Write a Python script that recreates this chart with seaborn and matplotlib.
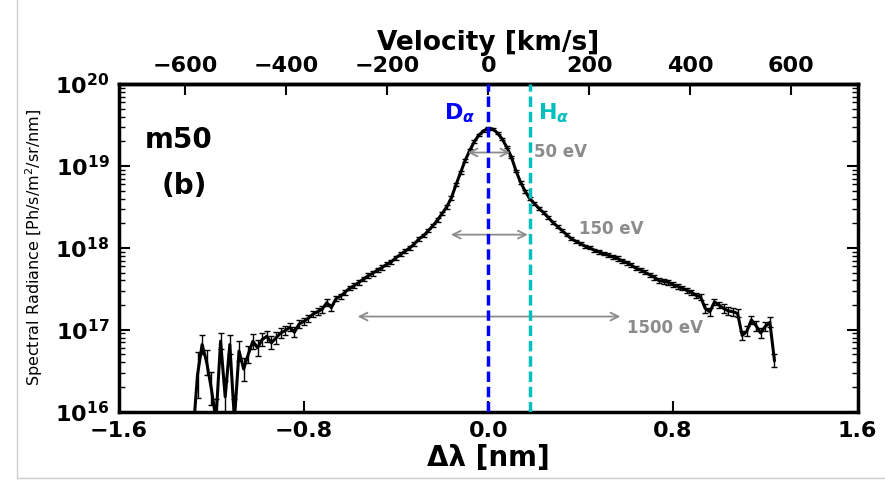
import numpy as np
import pandas as pd
import seaborn as sns
import matplotlib.pyplot as plt
from matplotlib.lines import Line2D
from matplotlib.ticker import LogLocator, NullFormatter

# wavelength shift from D-alpha [nm]
wavelength_shift = [
    -1.28, -1.26, -1.24, -1.22, -1.20, -1.18, -1.16, -1.14, -1.12, -1.10,
    -1.08, -1.06, -1.04, -1.02, -1.00, -0.98, -0.96, -0.94, -0.92, -0.90,
    -0.88, -0.86, -0.84, -0.82, -0.80, -0.78, -0.76, -0.74, -0.72, -0.70,
    -0.68, -0.66, -0.64, -0.62, -0.60, -0.58, -0.56, -0.54, -0.52, -0.50,
    -0.48, -0.46, -0.44, -0.42, -0.40, -0.38, -0.36, -0.34, -0.32, -0.30,
    -0.28, -0.26, -0.24, -0.22, -0.20, -0.18, -0.16, -0.14, -0.12, -0.10,
    -0.08, -0.06, -0.04, -0.02, 0.00, 0.02, 0.04, 0.06, 0.08, 0.10,
    0.12, 0.14, 0.16, 0.18, 0.20, 0.22, 0.24, 0.26, 0.28, 0.30,
    0.32, 0.34, 0.36, 0.38, 0.40, 0.42, 0.44, 0.46, 0.48, 0.50,
    0.52, 0.54, 0.56, 0.58, 0.60, 0.62, 0.64, 0.66, 0.68, 0.70,
    0.72, 0.74, 0.76, 0.78, 0.80, 0.82, 0.84, 0.86, 0.88, 0.90,
    0.92, 0.94, 0.96, 0.98, 1.00, 1.02, 1.04, 1.06, 1.08, 1.10,
    1.12, 1.14, 1.16, 1.18, 1.20, 1.22, 1.24,
]

# log10 of spectral radiance [Ph/s/m2/sr/nm]
log_radiance = [
    15.70, 16.45, 16.82, 16.60, 16.28, 15.90, 16.86, 16.18, 16.82, 15.90,
    16.74, 16.52, 16.70, 16.86, 16.78, 16.88, 16.92, 16.84, 16.90, 16.96,
    16.99, 17.03, 16.97, 17.07, 17.10, 17.14, 17.19, 17.22, 17.25, 17.33,
    17.27, 17.38, 17.41, 17.46, 17.51, 17.54, 17.58, 17.62, 17.66, 17.69,
    17.73, 17.76, 17.80, 17.83, 17.88, 17.92, 17.96, 18.00, 18.05, 18.11,
    18.15, 18.21, 18.27, 18.34, 18.42, 18.50, 18.61, 18.77, 18.92, 19.07,
    19.19, 19.30, 19.38, 19.43, 19.46, 19.45, 19.40, 19.33, 19.23, 19.11,
    18.94, 18.80, 18.69, 18.60, 18.54, 18.48, 18.43, 18.37, 18.31, 18.26,
    18.21, 18.16, 18.11, 18.08, 18.05, 18.02, 18.00, 17.97, 17.95, 17.93,
    17.91, 17.89, 17.87, 17.84, 17.82, 17.79, 17.75, 17.73, 17.70, 17.67,
    17.64, 17.60, 17.59, 17.58, 17.55, 17.53, 17.51, 17.48, 17.46, 17.42,
    17.40, 17.26, 17.22, 17.34, 17.30, 17.26, 17.23, 17.22, 17.20, 16.93,
    16.98, 17.12, 17.05, 16.96, 17.04, 17.09, 16.62,
]

# error bar half-width, in decades
log_error = [
    0.25, 0.28, 0.12, 0.15, 0.20, 0.25, 0.10, 0.20, 0.12, 0.25,
    0.12, 0.14, 0.10, 0.09, 0.10, 0.08, 0.07, 0.08, 0.07, 0.06,
    0.06, 0.05, 0.06, 0.05, 0.04, 0.04, 0.04, 0.04, 0.04, 0.04,
    0.04, 0.03, 0.03, 0.03, 0.03, 0.03, 0.03, 0.03, 0.03, 0.03,
    0.025, 0.025, 0.025, 0.025, 0.025, 0.025, 0.025, 0.025, 0.025, 0.025,
    0.02, 0.02, 0.02, 0.02, 0.02, 0.02, 0.02, 0.02, 0.02, 0.02,
    0.015, 0.015, 0.015, 0.015, 0.015, 0.015, 0.015, 0.015, 0.015, 0.015,
    0.015, 0.015, 0.02, 0.02, 0.02, 0.02, 0.02, 0.02, 0.02, 0.02,
    0.02, 0.02, 0.02, 0.02, 0.02, 0.02, 0.02, 0.02, 0.02, 0.02,
    0.025, 0.025, 0.025, 0.025, 0.025, 0.025, 0.025, 0.025, 0.025, 0.025,
    0.03, 0.03, 0.03, 0.03, 0.03, 0.03, 0.03, 0.03, 0.03, 0.03,
    0.04, 0.05, 0.05, 0.04, 0.04, 0.05, 0.05, 0.05, 0.05, 0.06,
    0.06, 0.05, 0.06, 0.06, 0.05, 0.06, 0.08,
]

x_ticks = [-1.6, -0.8, 0.0, 0.8, 1.6]
x_labels = ["\u22121.6", "\u22120.8", "0.0", "0.8", "1.6"]
v_ticks = [-600, -400, -200, 0, 200, 400, 600]
v_labels = ["\u2212600", "\u2212400", "\u2212200", "0", "200", "400", "600"]
y_ticks = [1e16, 1e17, 1e18, 1e19, 1e20]
y_labels = [r"$\mathbf{10^{16}}$", r"$\mathbf{10^{17}}$", r"$\mathbf{10^{18}}$",
            r"$\mathbf{10^{19}}$", r"$\mathbf{10^{20}}$"]

d_alpha = 0.0
h_alpha = 0.179
kms_per_nm = 299792.458 / 656.1

# temperature width arrows: (label, left, right, height, text x, text y)
widths = [
    ("50 eV", -0.089, 0.095, 1.46e19, 0.198, 1.48e19),
    ("150 eV", -0.162, 0.171, 1.45e18, 0.395, 1.71e18),
    ("1500 eV", -0.566, 0.572, 1.45e17, 0.601, 1.05e17),
]

df = pd.DataFrame({"dl": wavelength_shift, "logr": log_radiance, "err": log_error})
df["rad"] = 10 ** df["logr"]
lo = df["rad"] - 10 ** (df["logr"] - df["err"])
hi = 10 ** (df["logr"] + df["err"]) - df["rad"]

sns.set_theme(style="white")
plt.rcParams["font.family"] = ["DejaVu Sans"]
plt.rcParams["mathtext.fontset"] = "dejavusans"
plt.rcParams["text.color"] = "black"
plt.rcParams["axes.labelcolor"] = "black"
plt.rcParams["xtick.color"] = "black"
plt.rcParams["ytick.color"] = "black"

black = "#000000"
blue = "#0000ff"
cyan = "#00bfbf"
grey = "#8c8c8c"

fig, ax = plt.subplots(figsize=(8.85, 4.86), dpi=100)
fig.subplots_adjust(left=0.1345, right=0.969, top=0.827, bottom=0.153)
ax.set_yscale("log")

sns.lineplot(data=df, x="dl", y="rad", color=black, lw=2.2, sort=False,
             estimator=None, ax=ax, zorder=3)
ax.errorbar(df["dl"], df["rad"], yerr=[lo, hi], fmt="none", ecolor=black,
            elinewidth=1, capsize=2.5, capthick=1, zorder=3)

ax.axvline(d_alpha, color=blue, lw=2.5, dashes=(3, 1.4), zorder=4)
ax.axvline(h_alpha, color=cyan, lw=2.5, dashes=(3, 1.4), zorder=4)
ax.text(-0.19, 10 ** 19.645, r"$\mathbf{D}_{\boldsymbol{\alpha}}$", color=blue,
        fontsize=16, ha="left", va="center")
ax.text(0.214, 10 ** 19.645, r"$\mathbf{H}_{\boldsymbol{\alpha}}$", color=cyan,
        fontsize=16, ha="left", va="center")

for label, x0, x1, yy, tx, ty in widths:
    ax.annotate("", xy=(x0, yy), xytext=(x1, yy),
                arrowprops=dict(arrowstyle="<->", color=grey, lw=1.3,
                                shrinkA=0, shrinkB=0,
                                mutation_scale=14))
    ax.text(tx, ty, label, color=grey, fontsize=12, fontweight="bold",
            ha="left", va="center")

ax.text(0.035, 0.83, "m50", transform=ax.transAxes, fontsize=20,
        fontweight="bold", ha="left", va="center")
ax.text(0.058, 0.69, "(b)", transform=ax.transAxes, fontsize=20,
        fontweight="bold", ha="left", va="center")

ax.set_xlim(-1.6, 1.6)
ax.set_ylim(1e16, 1e20)
ax.set_xticks(x_ticks)
ax.set_xticklabels(x_labels, fontsize=16, fontweight="bold")
ax.set_yticks(y_ticks)
ax.set_yticklabels(y_labels, fontsize=16)
ax.yaxis.set_minor_locator(LogLocator(base=10, subs=np.arange(2, 10)))
ax.yaxis.set_minor_formatter(NullFormatter())
ax.tick_params(which="major", direction="in", length=8, width=1.5,
               right=True, top=False, bottom=True, left=True, color=black)
ax.tick_params(axis="x", which="major", pad=7)
ax.tick_params(axis="y", which="major", pad=7)
ax.tick_params(which="minor", direction="in", length=4, width=1,
               right=True, left=True, color=black)
ax.set_xlabel("\u0394\u03bb [nm]", fontsize=20, fontweight="bold", labelpad=2)
ax.set_ylabel("Spectral Radiance [Ph/s/m$^2$/sr/nm]", fontsize=11.5)
ax.yaxis.set_label_coords(-0.1, 0.5)
for s in ax.spines.values():
    s.set_linewidth(2.5)
    s.set_color(black)

secax = ax.secondary_xaxis("top", functions=(lambda x: x * kms_per_nm,
                                             lambda v: v / kms_per_nm))
secax.set_xticks(v_ticks)
secax.set_xticklabels(v_labels, fontsize=16, fontweight="bold")
secax.tick_params(direction="in", length=8, width=1.5, pad=6, colors=black)
secax.set_xlabel("Velocity [km/s]", fontsize=19, fontweight="bold", labelpad=4,
                 color=black)
secax.spines["top"].set_linewidth(2.5)
secax.spines["top"].set_color(black)

# faint page border of the original figure
fig.add_artist(Line2D([17 / 885, 17 / 885], [1, 8 / 486], color="#cccccc", lw=1))
fig.add_artist(Line2D([17 / 885, 1], [8 / 486, 8 / 486], color="#cccccc", lw=1))

plt.savefig("out.png", dpi=100)
